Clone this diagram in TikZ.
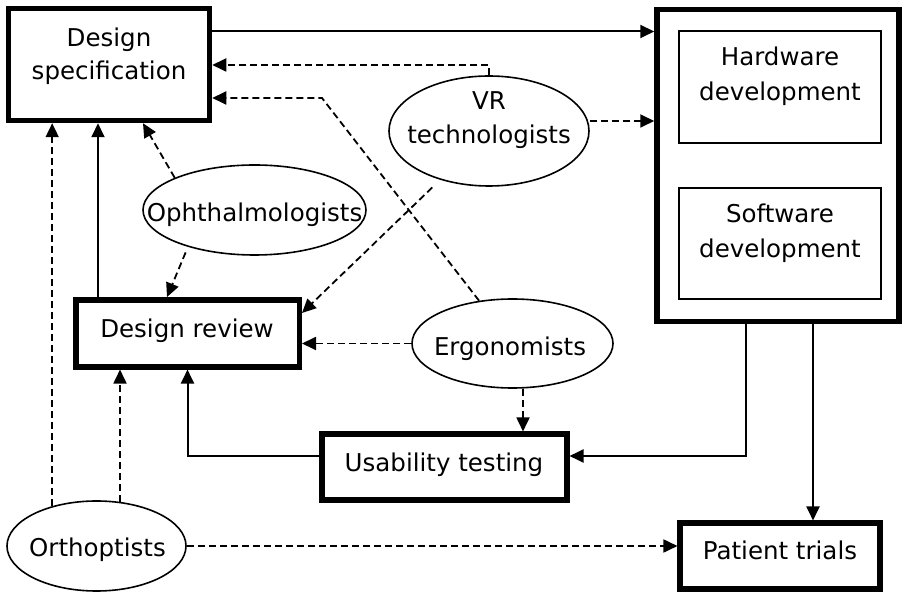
\documentclass[tikz,border=0pt]{standalone}
\usepackage{fontspec}
\setmainfont{DejaVu Sans}
\usetikzlibrary{arrows.meta,shapes.geometric}
\tikzset{
  thickbox/.style={draw, line width=5.5pt, rectangle, inner sep=0pt},
  thinbox/.style={draw, line width=1.3pt, rectangle, inner sep=0pt},
  oval/.style={draw, line width=1.6pt, ellipse, inner sep=0pt},
  txt/.style={inner sep=0pt, anchor=base, font=\fontsize{24.5}{30}\selectfont},
  solidarrow/.style={line width=2pt, -{Triangle[length=14pt,width=13pt]}},
  dasharrow/.style={line width=1.8pt, dash pattern=on 7pt off 4pt, -{Triangle[length=14pt,width=13pt]}}
}
\begin{document}
\begin{tikzpicture}[x=1pt,y=-1pt]
\useasboundingbox (0,0) rectangle (906,593);
% boxes
\node[thickbox, minimum width=201pt, minimum height=112pt] (ds) at (109,64.5) {};
\node[thickbox, minimum width=242pt, minimum height=312pt] (big) at (778,165.7) {};
\node[thinbox, minimum width=202pt, minimum height=112pt] (hw) at (780,87) {};
\node[thinbox, minimum width=202pt, minimum height=111pt] (sw) at (780,243.5) {};
\node[thickbox, minimum width=223.5pt, minimum height=67pt] (dr) at (187.5,333.3) {};
\node[thickbox, minimum width=245pt, minimum height=66pt] (us) at (444.3,467.2) {};
\node[thickbox, minimum width=200pt, minimum height=66pt] (pt) at (780.2,556.2) {};
% ellipses
\node[oval, minimum width=200pt, minimum height=110pt] (vr) at (489,131) {};
\node[oval, minimum width=223pt, minimum height=90pt] (oph) at (254.5,210) {};
\node[oval, minimum width=201pt, minimum height=89pt] (erg) at (512.5,343.5) {};
\node[oval, minimum width=179pt, minimum height=90pt] (orth) at (96.5,546) {};
% texts
\node[txt] (ds1) at (109,47) {Design};
\node[txt] (ds2) at (109,80) {specification};
\node[txt] (hw1) at (780,66) {Hardware};
\node[txt] (hw2) at (780,101) {development};
\node[txt] (sw1) at (780,222.5) {Software};
\node[txt] (sw2) at (780,257.5) {development};
\node[txt] (vr1) at (489,110) {VR};
\node[txt] (vr2) at (489,144) {technologists};
\node[txt] (oph1) at (254.5,222) {Ophthalmologists};
\node[txt] (erg1) at (510,356) {Ergonomists};
\node[txt] (orth1) at (97.5,556.7) {Orthoptists};
\node[txt] (dr1) at (187,337.3) {Design review};
\node[txt] (us1) at (444,471.7) {Usability testing};
\node[txt] (pt1) at (780,560) {Patient trials};
% connectors
\draw[solidarrow] (ds.east |- 0,31.5) -- (big.west |- 0,31.5);
\draw[dasharrow] (vr.north) |- (ds.east |- 0,65);
\draw[dasharrow] (vr.east |- 0,121) -- (big.west |- 0,121);
\draw[dasharrow] (erg.128) -- (322,98) -- (ds.east |- 0,98);
\draw[dasharrow, shorten <=11pt] (vr.225) -- (dr.east |- 0,313);
\draw[dasharrow] (oph.158) -- (ds.south -| 143,0);
\draw[dasharrow, shorten <=6pt] (oph.209) -- (dr.north -| 167,0);
\draw[solidarrow] (dr.north -| 98,0) -- (ds.south -| 98,0);
\draw[dasharrow] (orth.138) -- (orth.138 |- ds.south);
\draw[dasharrow] (orth.62) -- (orth.62 |- dr.south);
\draw[dasharrow] (orth.east) -- (pt.west |- orth.east);
\draw[solidarrow] (us.west |- 0,456) -| (dr.south);
\draw[solidarrow] (big.south -| 746,0) |- (us.east |- 0,456);
\draw[solidarrow] (big.south -| 813,0) -- (pt.north -| 813,0);
\draw[dasharrow] (erg.south -| 523,0) -- (us.north -| 523,0);
\draw[dasharrow] (erg.west) -- (dr.east |- erg.west);
\end{tikzpicture}
\end{document}
